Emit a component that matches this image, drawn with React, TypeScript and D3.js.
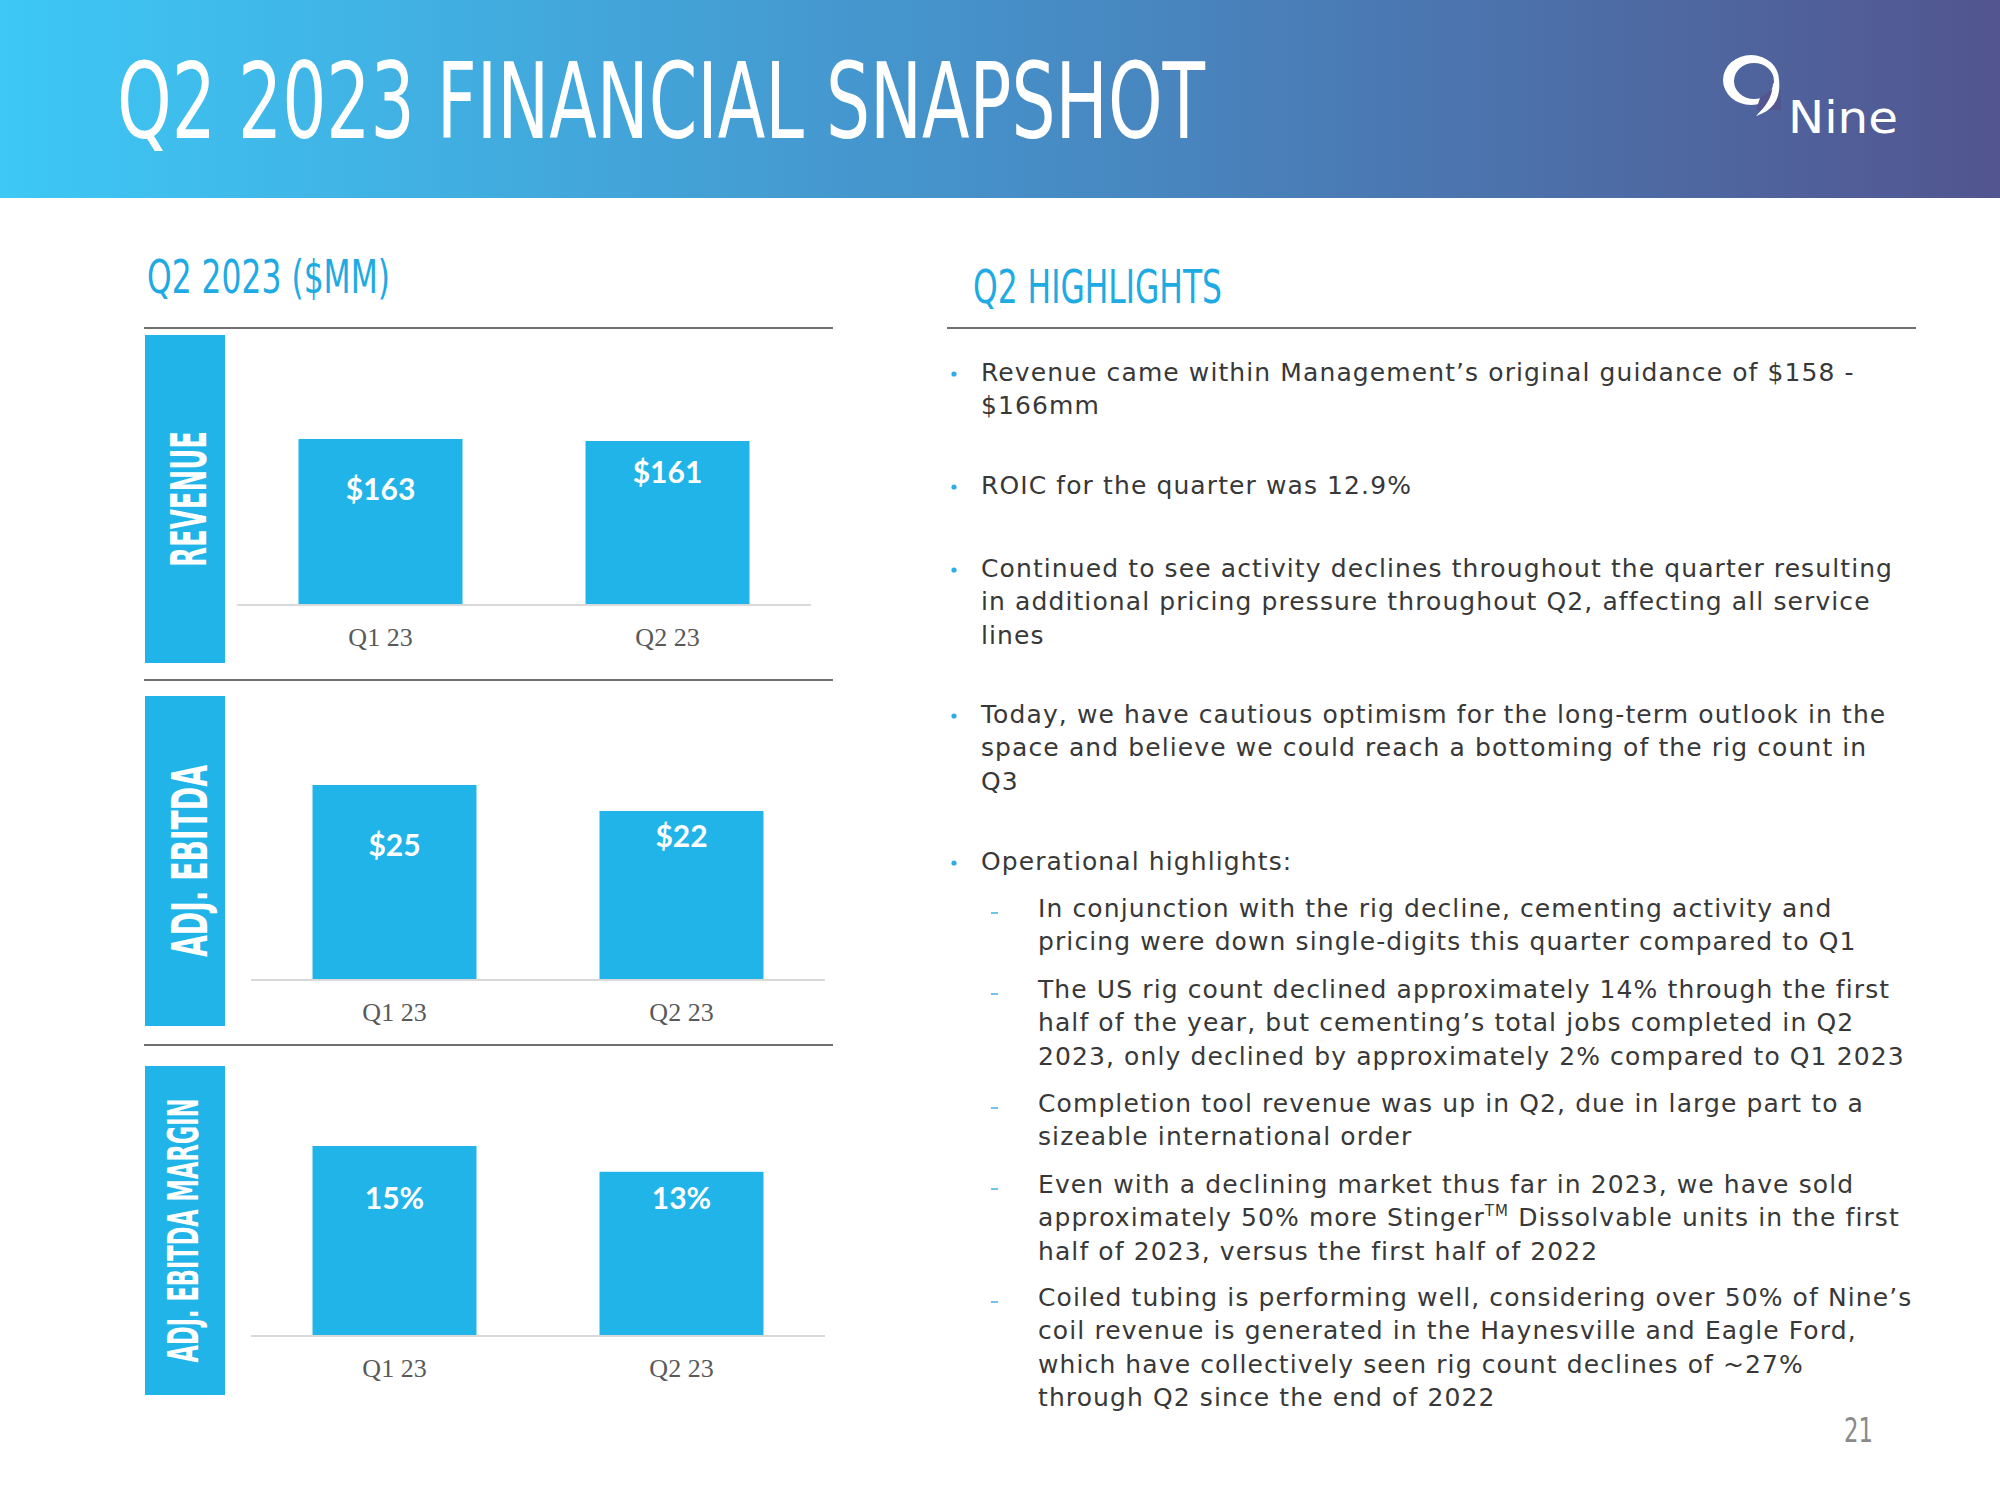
import React from "react";
import * as d3 from "d3";

// ---------- DATA ----------
const categories = ["Q1 23", "Q2 23"];
const revenue = [163, 161];
const revenueLabels = ["$163", "$161"];
const adjEbitda = [25.4, 22.0];
const ebitdaLabels = ["$25", "$22"];
const ebitdaMargin = [15.4, 13.3];
const marginLabels = ["15%", "13%"];

const panelTitles = ["REVENUE", "ADJ. EBITDA", "ADJ. EBITDA MARGIN"];

type Para = { level: number; lines: (string | { pre: string; sup: string; post: string })[] };
const highlights: Para[] = [
  { level: 0, lines: ["Revenue came within Management\u2019s original guidance of $158 -", "$166mm"] },
  { level: 0, lines: ["ROIC for the quarter was 12.9%"] },
  {
    level: 0,
    lines: [
      "Continued to see activity declines throughout the quarter resulting",
      "in additional pricing pressure throughout Q2, affecting all service",
      "lines",
    ],
  },
  {
    level: 0,
    lines: [
      "Today, we have cautious optimism for the long-term outlook in the",
      "space and believe we could reach a bottoming of the rig count in",
      "Q3",
    ],
  },
  { level: 0, lines: ["Operational highlights:"] },
  {
    level: 1,
    lines: [
      "In conjunction with the rig decline, cementing activity and",
      "pricing were down single-digits this quarter compared to Q1",
    ],
  },
  {
    level: 1,
    lines: [
      "The US rig count declined approximately 14% through the first",
      "half of the year, but cementing\u2019s total jobs completed in Q2",
      "2023, only declined by approximately 2% compared to Q1 2023",
    ],
  },
  {
    level: 1,
    lines: ["Completion tool revenue was up in Q2, due in large part to a", "sizeable international order"],
  },
  {
    level: 1,
    lines: [
      "Even with a declining market thus far in 2023, we have sold",
      { pre: "approximately 50% more Stinger", sup: "TM", post: " Dissolvable units in the first" },
      "half of 2023, versus the first half of 2022",
    ],
  },
  {
    level: 1,
    lines: [
      "Coiled tubing is performing well, considering over 50% of Nine\u2019s",
      "coil revenue is generated in the Haynesville and Eagle Ford,",
      "which have collectively seen rig count declines of ~27%",
      "through Q2 since the end of 2022",
    ],
  },
];

// ---------- LAYOUT ----------
const BLUE = "#21b4e8";
const TITLE_BLUE = "#1eaae2";
const CONDENSED = "'DejaVu Sans Condensed', 'Liberation Sans Narrow', Roboto, sans-serif";
const BODY = "'DejaVu Sans', 'Noto Sans', sans-serif";

const panels = [
  {
    values: revenue,
    labels: revenueLabels,
    title: panelTitles[0],
    domainMax: 265.7,
    top: 335,
    base: 604,
    boxBottom: 663,
    x0: 237,
    x1: 811,
    labelDy: [49, 30],
    titleSize: 50,
    titleLen: 136,
    titleX: 206,
  },
  {
    values: adjEbitda,
    labels: ebitdaLabels,
    title: panelTitles[1],
    domainMax: 37.05,
    top: 696,
    base: 979,
    boxBottom: 1026,
    x0: 251,
    x1: 825,
    labelDy: [59, 24],
    titleSize: 50,
    titleLen: 192,
    titleX: 207,
  },
  {
    values: ebitdaMargin,
    labels: marginLabels,
    title: panelTitles[2],
    domainMax: 21.92,
    top: 1066,
    base: 1335,
    boxBottom: 1395,
    x0: 251,
    x1: 825,
    labelDy: [51, 25],
    titleSize: 42,
    titleLen: 264,
    titleX: 198,
  },
];

const paraStarts = [381, 494, 577, 723, 870, 917, 998, 1112, 1193, 1306];
const LINE_H = 33.4;

function Panel({ p }: { p: (typeof panels)[number] }) {
  const x = d3.scaleBand<string>().domain(categories).range([p.x0, p.x1]).paddingInner(0.4286).paddingOuter(0.2143);
  const y = d3.scaleLinear().domain([0, p.domainMax]).range([p.base, p.top]);
  const cy = (p.top + p.boxBottom) / 2;
  return (
    <g>
      <rect x={145} y={p.top} width={80} height={p.boxBottom - p.top} fill={BLUE} />
      <text
        transform={`translate(${p.titleX},${cy}) rotate(-90)`}
        textAnchor="middle"
        fontFamily={CONDENSED}
        fontWeight={700}
        fontSize={p.titleSize}
        textLength={p.titleLen}
        lengthAdjust="spacingAndGlyphs"
        fill="#fff"
      >
        {p.title}
      </text>
      {categories.map((c, i) => (
        <g key={c}>
          <rect x={x(c)} y={y(p.values[i])} width={x.bandwidth()} height={p.base - y(p.values[i])} fill={BLUE} />
          <text
            x={(x(c) as number) + x.bandwidth() / 2}
            y={y(p.values[i]) + p.labelDy[i]}
            textAnchor="middle"
            dominantBaseline="central"
            fontFamily="Lato, 'Open Sans', sans-serif"
            fontWeight={700}
            fontSize={30}
            fill="#fff"
          >
            {p.labels[i]}
          </text>
          <text
            x={(x(c) as number) + x.bandwidth() / 2}
            y={p.base + 42}
            textAnchor="middle"
            fontFamily="'Liberation Serif', 'DejaVu Serif', serif"
            fontSize={26}
            fill="#595959"
          >
            {c}
          </text>
        </g>
      ))}
      <line x1={p.x0} x2={p.x1} y1={p.base + 1} y2={p.base + 1} stroke="#d9d9d9" strokeWidth={2} />
    </g>
  );
}

export default function App() {
  return (
    <svg
      width={2000}
      height={1500}
      viewBox="0 0 2000 1500"
      style={{ position: "absolute", left: 0, top: 0, background: "#fff" }}
    >
      <defs>
        <linearGradient id="hdr" x1="0" x2="1" y1="0" y2="0">
          <stop offset="0" stopColor="#3dc8f5" />
          <stop offset="0.5" stopColor="#468fc8" />
          <stop offset="1" stopColor="#52558f" />
        </linearGradient>
      </defs>
      <rect x={0} y={0} width={2000} height={198} fill="url(#hdr)" />
      <text
        x={117}
        y={138}
        fontFamily={CONDENSED}
        fontWeight={500}
        fontSize={106}
        textLength={1088}
        lengthAdjust="spacingAndGlyphs"
        fill="#fff"
      >
        Q2 2023 FINANCIAL SNAPSHOT
      </text>
      {/* logo */}
      <path
        fillRule="evenodd"
        fill="#fff"
        d="M1723,80 A28,25 0 1 0 1779,80 A28,25 0 1 0 1723,80 Z M1734,81 A20,18 0 1 0 1774,81 A20,18 0 1 0 1734,81 Z"
      />
      <path fill="#52558f" d="M1760,98 L1780,84 L1781,110 L1756,110 Z" />
      <path fill="#fff" d="M1779,80 C1781,98 1774,110 1756,116 C1766,106 1772,98 1773,84 Z" />
      <text
        x={1788}
        y={133}
        fontFamily={BODY}
        fontSize={44}
        textLength={110}
        lengthAdjust="spacingAndGlyphs"
        fill="#fff"
      >
        Nine
      </text>

      {/* left section */}
      <text
        x={147}
        y={293}
        fontFamily={CONDENSED}
        fontWeight={500}
        fontSize={46}
        textLength={243}
        lengthAdjust="spacingAndGlyphs"
        fill={TITLE_BLUE}
      >
        Q2 2023 ($MM)
      </text>
      <line x1={144} x2={833} y1={328} y2={328} stroke="#404040" strokeWidth={1.6} />
      <line x1={144} x2={833} y1={680} y2={680} stroke="#404040" strokeWidth={1.6} />
      <line x1={144} x2={833} y1={1045} y2={1045} stroke="#404040" strokeWidth={1.6} />
      {panels.map((p, i) => (
        <Panel key={i} p={p} />
      ))}

      {/* right section */}
      <text
        x={973}
        y={303}
        fontFamily={CONDENSED}
        fontWeight={500}
        fontSize={46}
        textLength={249}
        lengthAdjust="spacingAndGlyphs"
        fill={TITLE_BLUE}
      >
        Q2 HIGHLIGHTS
      </text>
      <line x1={947} x2={1916} y1={328} y2={328} stroke="#404040" strokeWidth={1.6} />
      {highlights.map((para, pi) => {
        const tx = para.level === 0 ? 981 : 1038;
        const y0 = paraStarts[pi];
        return (
          <g key={pi}>
            {para.level === 0 ? (
              <circle cx={954} cy={y0 - 7} r={2.6} fill="#2aaee4" />
            ) : (
              <line x1={991} x2={998} y1={y0 - 4} y2={y0 - 4} stroke="#3ab0e2" strokeWidth={1.5} />
            )}
            {para.lines.map((ln, li) => (
              <text
                key={li}
                x={tx}
                y={y0 + li * LINE_H}
                fontFamily={BODY}
                fontSize={25}
                letterSpacing={1.1}
                fill="#383838"
              >
                {typeof ln === "string" ? (
                  ln
                ) : (
                  <>
                    {ln.pre}
                    <tspan dy={-10} fontSize={15}>
                      {ln.sup}
                    </tspan>
                    <tspan dy={10}>{ln.post}</tspan>
                  </>
                )}
              </text>
            ))}
          </g>
        );
      })}
      <text
        x={1844}
        y={1442}
        fontFamily={CONDENSED}
        fontSize={33}
        textLength={29}
        lengthAdjust="spacingAndGlyphs"
        fill="#8a8a8a"
      >
        21
      </text>
    </svg>
  );
}
